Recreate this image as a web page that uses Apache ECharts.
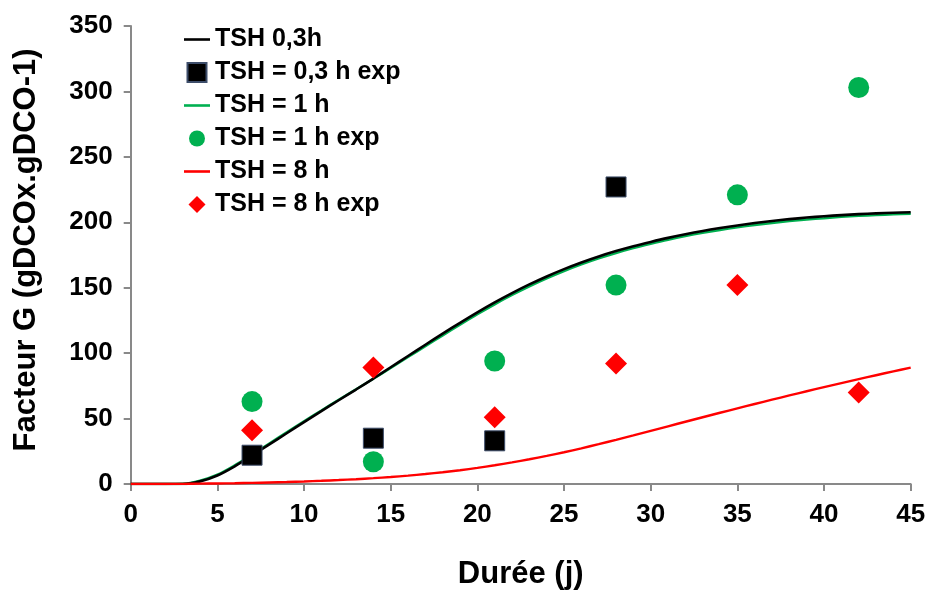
<!DOCTYPE html>
<html>
<head>
<meta charset="utf-8">
<script src="https://cdn.jsdelivr.net/npm/echarts@6/dist/echarts.min.js"></script>
<style>html,body{margin:0;padding:0;background:#fff}#c{width:930px;height:595px}</style>
</head>
<body>
<div id="c"></div>
<script>
// Model curves (day -> G factor)
const days = [0,1,2,3,4,5,6,7,8,9,10,11,12,13,14,15,16,17,18,19,20,21,22,23,24,25,26,27,28,29,30,31,32,33,34,35,36,37,38,39,40,41,42,43,44,45];
const tsh03 = [0,0,0,0,2,6.5,13.5,21.8,30.3,38.8,47.3,55.7,64.0,72.2,80.6,89.2,97.8,106.4,114.9,123.2,131.2,138.8,145.9,152.5,158.6,164.2,169.3,173.9,178.0,181.7,185.0,188.1,190.9,193.4,195.6,197.6,199.4,201.0,202.4,203.6,204.6,205.5,206.2,206.8,207.3,207.7];
const tsh1 = [0,0,0,0.2,2.6,7.2,14.3,22.5,31.0,39.5,48.0,56.2,64.4,72.4,80.4,88.7,97.0,105.3,113.5,121.7,129.7,137.3,144.4,151.0,157.1,162.7,167.8,172.4,176.5,180.2,183.5,186.6,189.4,191.9,194.1,196.1,197.9,199.5,200.9,202.1,203.1,204.1,204.9,205.5,206.1,206.5];
const tsh8 = [0,0,0.05,0.13,0.25,0.41,0.61,0.86,1.16,1.51,1.93,2.43,3.01,3.68,4.45,5.35,6.4,7.6,8.98,10.55,12.32,14.3,16.5,18.9,21.5,24.28,27.23,30.45,33.77,37.17,40.62,44.09,47.56,51.01,54.43,57.81,61.15,64.44,67.68,70.87,74.01,77.1,80.14,83.13,86.07,88.96];

// Experimental points
const expDays03 = [7,14,21,28];
const exp03 = [22,35,33,227];
const expDays1 = [7,14,21,28,35,42];
const exp1 = [63,17,94,152,221,303];
const expDays8 = [7,14,21,28,35,42];
const exp8 = [41,89,51,92,152,70];

const seriesNames = ['TSH 0,3h','TSH = 0,3 h exp','TSH = 1 h','TSH = 1 h exp','TSH = 8 h','TSH = 8 h exp'];
const xTicks = {min:0, max:45, step:5};
const yTicks = {min:0, max:350, step:50};

const zip = (xs, ys) => xs.map((x,i)=>[x, ys[i]]);
const FONT = "'Liberation Sans', Arial, sans-serif";
const axisGray = '#898989';

// legend icons (26 x 19 box, corners fixed by bare moves)
const BOX = 'M0,0 M26,19 ';
const iconLine = 'path://' + BOX + 'M0,8.2 L26,8.2 L26,10.8 L0,10.8 Z';
const iconSquare = 'path://' + BOX + 'M3.5,0 L22.5,0 L22.5,19 L3.5,19 Z';
const iconCircle = 'path://' + BOX + 'M5,9.5 A8,8 0 1 1 21,9.5 A8,8 0 1 1 5,9.5 Z';
const iconDiamond = 'path://' + BOX + 'M13,1 L21.5,9.5 L13,18 L4.5,9.5 Z';
const legendIcons = [iconLine, iconSquare, iconLine, iconCircle, iconLine, iconDiamond];

const chart = echarts.init(document.getElementById('c'), null, {renderer:'canvas'});
chart.setOption({
  animation:false,
  backgroundColor:'#fff',
  textStyle:{fontFamily:FONT},
  grid:{left:130.7, right:19.3, top:26, bottom:106, containLabel:false},
  legend:{
    orient:'vertical', left:183, top:27, padding:0,
    itemWidth:26, itemHeight:19, itemGap:8,
    textStyle:{fontFamily:FONT, fontWeight:'bold', fontSize:25, lineHeight:25, color:'#000'},
    data:seriesNames.map((n,i)=>({name:n, icon:legendIcons[i]}))
  },
  xAxis:{
    type:'value', min:xTicks.min, max:xTicks.max, interval:xTicks.step,
    name:'Durée (j)', nameLocation:'middle', nameGap:75,
    nameTextStyle:{fontFamily:FONT, fontWeight:'bold', fontSize:31, color:'#000'},
    axisLine:{show:true, lineStyle:{color:axisGray, width:2}},
    axisTick:{show:true, inside:false, length:7, lineStyle:{color:axisGray, width:2}},
    axisLabel:{margin:18, fontFamily:FONT, fontWeight:'bold', fontSize:26, color:'#000'},
    splitLine:{show:false}
  },
  yAxis:{
    type:'value', min:yTicks.min, max:yTicks.max, interval:yTicks.step,
    name:'Facteur G (gDCOx.gDCO-1)', nameLocation:'middle', nameGap:89, nameRotate:90,
    nameTextStyle:{fontFamily:FONT, fontWeight:'bold', fontSize:31, color:'#000', padding:[0,0,0,10]},
    axisLine:{show:true, lineStyle:{color:axisGray, width:2}},
    axisTick:{show:true, inside:false, length:7, lineStyle:{color:axisGray, width:2}},
    axisLabel:{margin:18, fontFamily:FONT, fontWeight:'bold', fontSize:26, color:'#000'},
    splitLine:{show:false}
  },
  series:[
    {name:seriesNames[0], type:'line', data:zip(days,tsh03), symbol:'none', smooth:0.3,
      lineStyle:{color:'#000', width:2.6}, itemStyle:{color:'#000'}, z:3},
    {name:seriesNames[1], type:'scatter', data:zip(expDays03,exp03), symbol:'rect', symbolSize:20,
      itemStyle:{color:'#000', borderColor:'#3d4d6a', borderWidth:1, opacity:1}, z:5},
    {name:seriesNames[2], type:'line', data:zip(days,tsh1), symbol:'none', smooth:0.3,
      lineStyle:{color:'#00B050', width:2.4}, itemStyle:{color:'#00B050'}, z:2},
    {name:seriesNames[3], type:'scatter', data:zip(expDays1,exp1), symbol:'circle', symbolSize:21,
      itemStyle:{color:'#00B050', opacity:1}, z:5},
    {name:seriesNames[4], type:'line', data:zip(days,tsh8), symbol:'none', smooth:0.3,
      lineStyle:{color:'#FF0000', width:2.4}, itemStyle:{color:'#FF0000'}, z:3},
    {name:seriesNames[5], type:'scatter', data:zip(expDays8,exp8), symbol:'diamond', symbolSize:22,
      itemStyle:{color:'#FF0000', opacity:1}, z:5}
  ]
});
</script>
</body>
</html>
